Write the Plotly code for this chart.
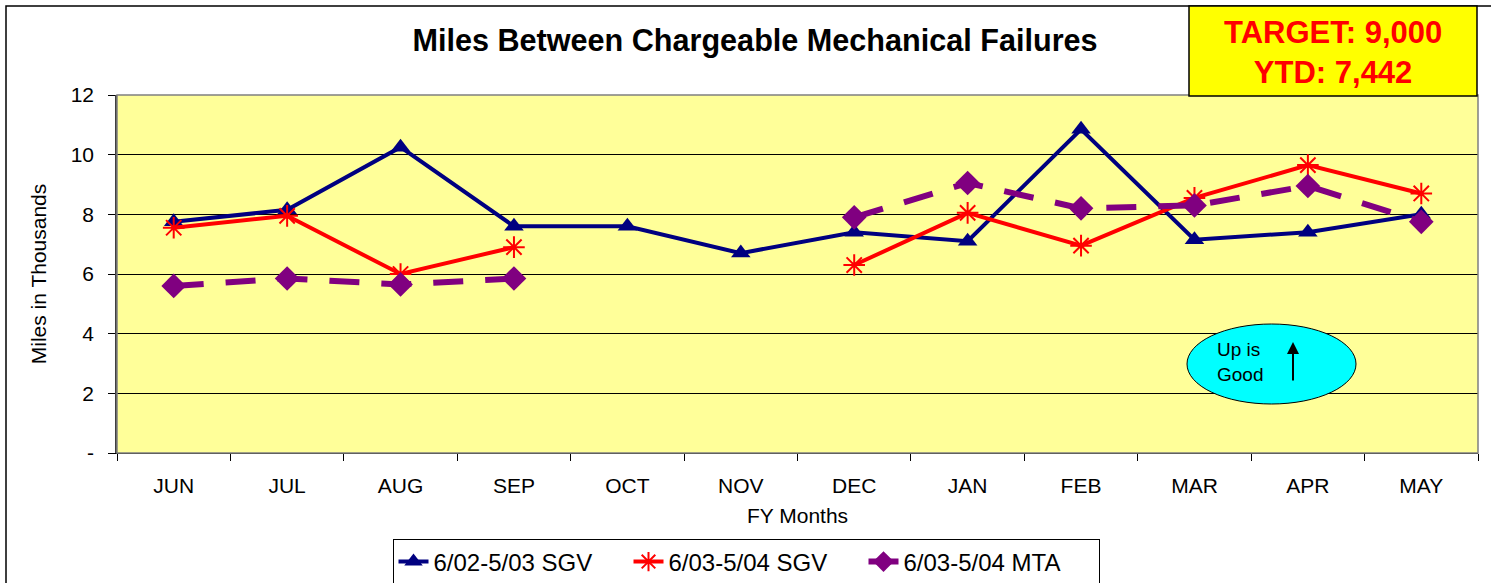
import plotly.graph_objects as go

months = ["JUN", "JUL", "AUG", "SEP", "OCT", "NOV", "DEC", "JAN", "FEB", "MAR", "APR", "MAY"]
sgv_0203 = [7.75, 8.15, 10.25, 7.6, 7.6, 6.7, 7.4, 7.1, 10.85, 7.15, 7.4, 8.0]
sgv_0304 = [7.55, 7.95, 6.0, 6.9, None, None, 6.3, 8.05, 6.95, 8.55, 9.65, 8.7]
mta_0304 = [5.6, 5.85, 5.65, 5.85, None, None, 7.9, 9.05, 8.2, 8.3, 8.95, 7.75]
y_ticks = [0, 2, 4, 6, 8, 10, 12]
y_tick_text = ["-", "2", "4", "6", "8", "10", "12"]

FONT = "Arial, Liberation Sans, sans-serif"

fig = go.Figure()
fig.add_trace(go.Scatter(
    x=months, y=sgv_0203, name="6/02-5/03 SGV", mode="lines+markers",
    line=dict(color="#000080", width=4),
    marker=dict(symbol="triangle-up", size=17, color="#000080"),
))
fig.add_trace(go.Scatter(
    x=months, y=sgv_0304, name="6/03-5/04 SGV", mode="lines+markers",
    line=dict(color="#FF0000", width=4), connectgaps=False,
    marker=dict(symbol="asterisk-open", size=18, color="#FF0000",
                line=dict(color="#FF0000", width=2)),
))
fig.add_trace(go.Scatter(
    x=months, y=mta_0304, name="6/03-5/04 MTA", mode="lines+markers",
    line=dict(color="#800080", width=6, dash="30px,22px"), connectgaps=False,
    marker=dict(symbol="diamond", size=19, color="#800080"),
))

L, R, T, B = 117, 1478, 95, 453
W, H = 1491, 583
pw, ph = R - L, B - T

def px(x):
    return (x - L) / pw

def py(y):
    return (B - y) / ph

shapes = [
    dict(type="rect", xref="paper", yref="paper", x0=px(6), y0=py(600), x1=px(1500), y1=py(6),
         line=dict(color="black", width=1.5), layer="below"),
    dict(type="rect", xref="paper", yref="paper", x0=0, y0=0, x1=1, y1=1,
         line=dict(color="#808080", width=1.5)),
    dict(type="rect", xref="paper", yref="paper", x0=px(1189), y0=py(96), x1=px(1477), y1=py(6),
         fillcolor="#FFFF00", line=dict(color="black", width=1.5)),
    dict(type="circle", xref="paper", yref="paper", x0=px(1187), y0=py(404), x1=px(1356), y1=py(324),
         fillcolor="#00FFFF", line=dict(color="black", width=1)),
]

annotations = [
    dict(xref="paper", yref="paper", x=px(1333), y=py(52), xanchor="center", yanchor="middle",
         text="<b>TARGET: 9,000<br>YTD: 7,442</b>", showarrow=False,
         font=dict(family=FONT, size=31, color="#FF0000"), align="center"),
    dict(xref="paper", yref="paper", x=px(1240), y=py(362), xanchor="center", yanchor="middle",
         text="Up is<br>Good", showarrow=False,
         font=dict(family=FONT, size=19, color="black"), align="left"),
    dict(xref="paper", yref="paper", x=px(1293), y=py(342), ax=0, ay=40,
         axref="pixel", ayref="pixel", text="", showarrow=True, arrowhead=2, arrowsize=1.2,
         arrowwidth=2, arrowcolor="black"),
]

fig.update_layout(
    width=W, height=H,
    margin=dict(l=L, r=W - R, t=T, b=H - B, autoexpand=False),
    paper_bgcolor="white", plot_bgcolor="#FFFF99",
    font=dict(family=FONT, size=21, color="black"),
    title=dict(text="<b>Miles Between Chargeable Mechanical Failures</b>", xref="container",
               x=755 / W, xanchor="center", yref="container",
               y=1 - 40 / H, yanchor="middle", font=dict(family=FONT, size=30.6, color="black")),
    showlegend=True,
    legend=dict(orientation="h", x=px(746), xanchor="center", y=py(562), yanchor="middle",
                bgcolor="white", bordercolor="black", borderwidth=1,
                font=dict(family=FONT, size=24), entrywidth=190, entrywidthmode="pixels"),
    shapes=shapes, annotations=annotations,
)
fig.update_xaxes(
    type="category", categoryorder="array", categoryarray=months,
    range=[-0.5, len(months) - 0.5],
    tickson="boundaries", ticks="outside", ticklen=7, tickcolor="black",
    showline=True, linecolor="black", linewidth=1, showgrid=False,
    ticklabelstandoff=14, tickfont=dict(size=21),
    title=dict(text="FY Months", standoff=12, font=dict(size=21)),
)
fig.update_yaxes(
    range=[0, 12], tickvals=y_ticks, ticktext=y_tick_text,
    ticks="outside", ticklen=7, tickcolor="black",
    showline=True, linecolor="#404040", linewidth=1.5,
    showgrid=True, gridcolor="black", gridwidth=1, zeroline=False,
    ticklabelstandoff=10, tickfont=dict(size=21),
    title=dict(text="Miles in Thousands", standoff=18, font=dict(size=21)),
)

fig.write_html("out.html", config={"displayModeBar": False},
               post_script="document.body.style.margin='0px';")
